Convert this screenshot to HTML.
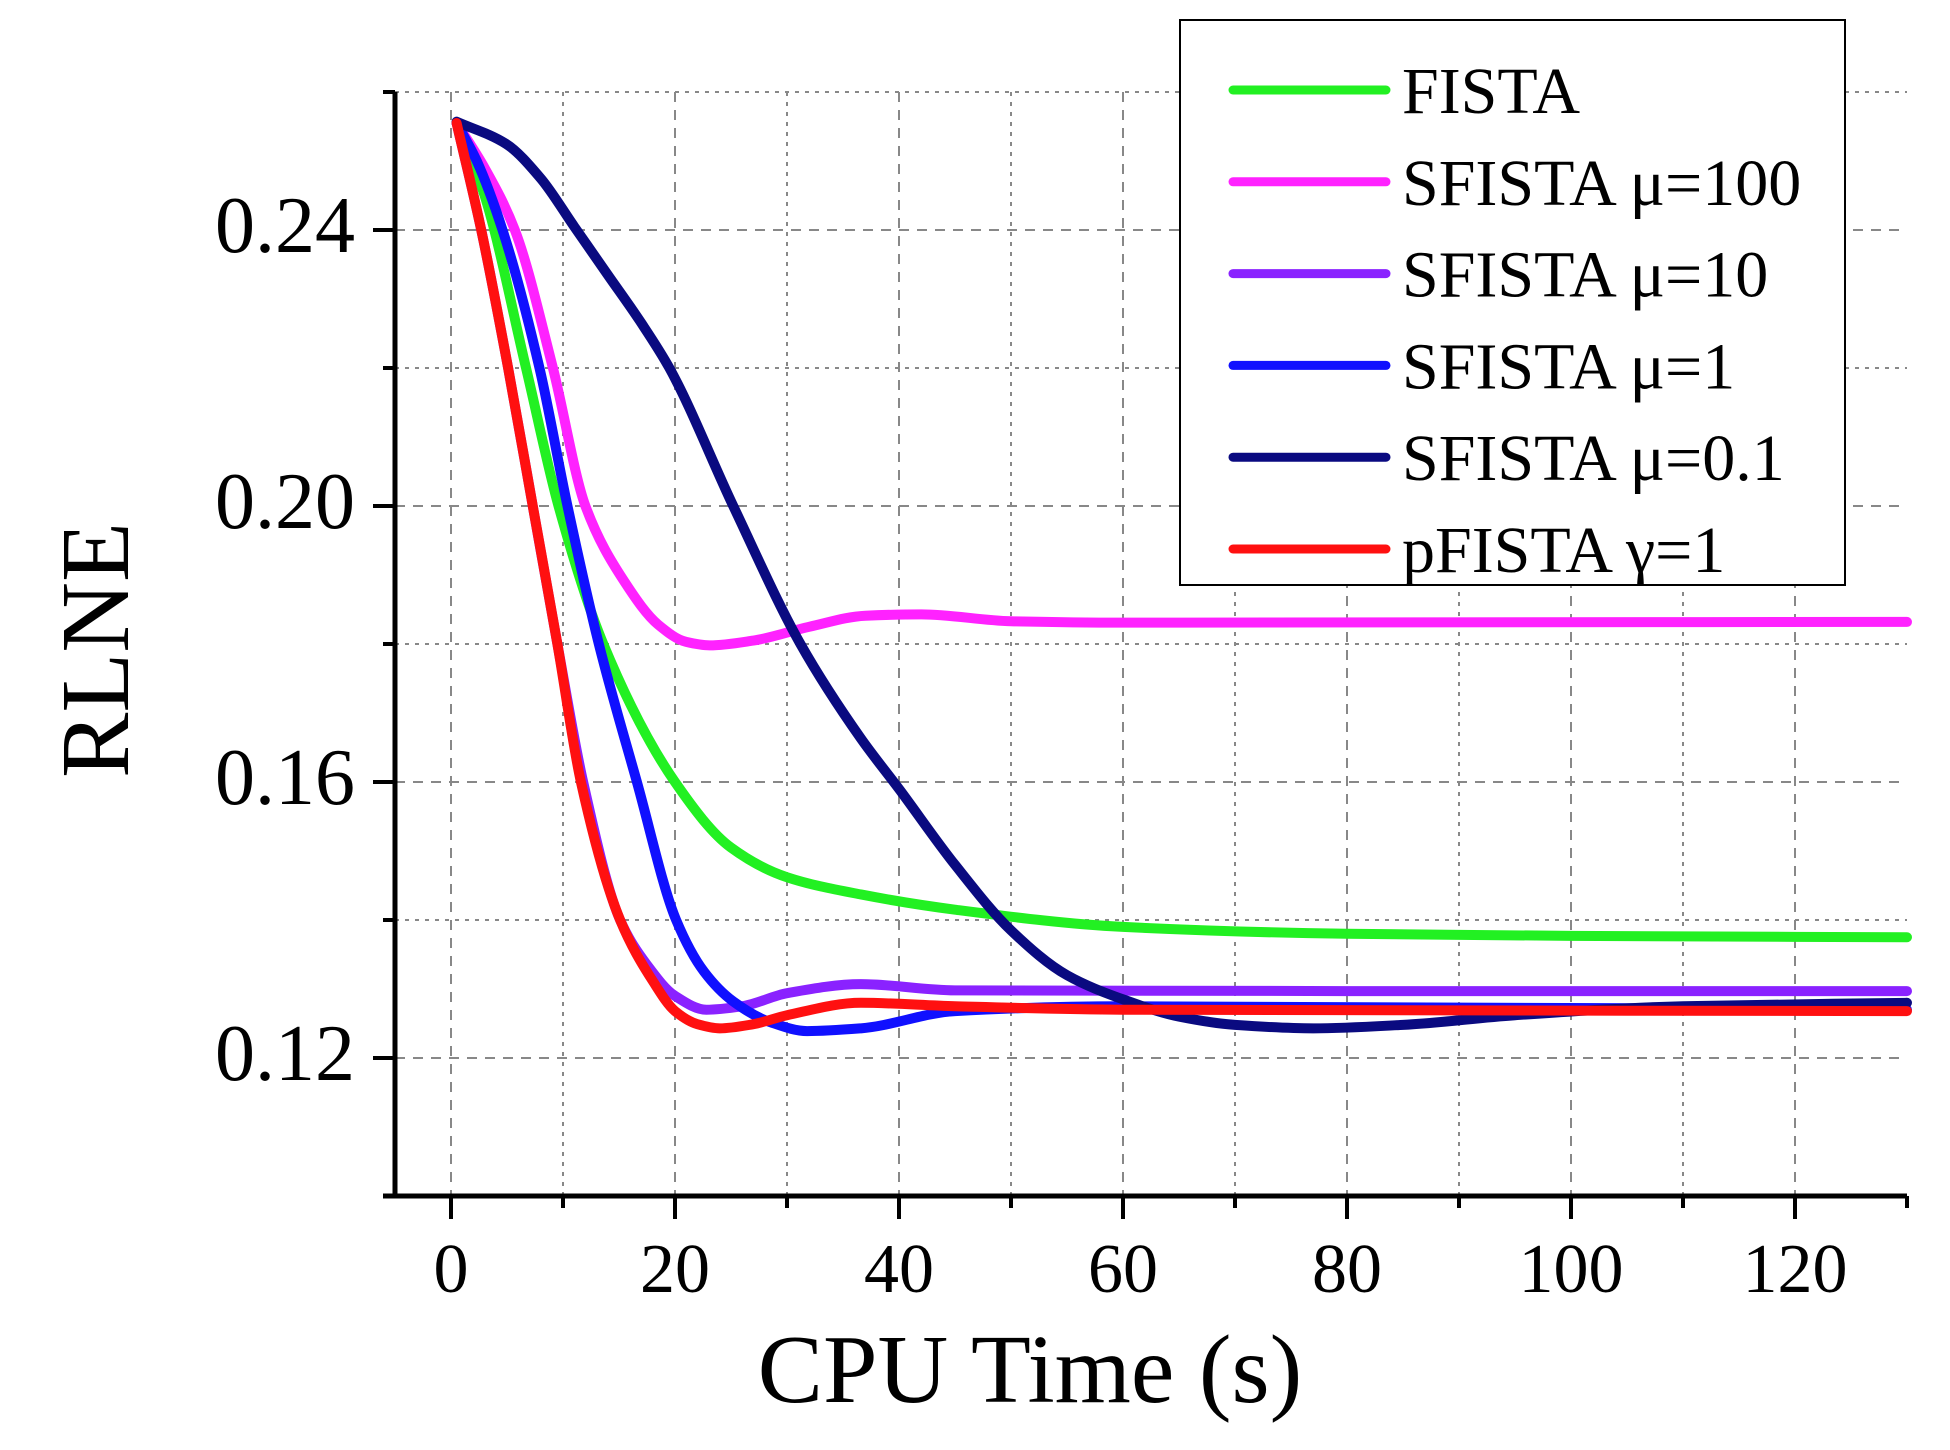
<!DOCTYPE html>
<html><head><meta charset="utf-8"><style>
html,body{margin:0;padding:0;background:#fff;}
svg{display:block;font-family:"Liberation Serif",serif;}
</style></head><body>
<svg id="chart" width="1950" height="1450" viewBox="0 0 1950 1450">
<g id="grid"></g>
<g id="series"></g>
<g id="axes"></g>
<text x="1030" y="1402" font-size="98" text-anchor="middle">CPU Time (s)</text>
<text transform="translate(128,650) rotate(-90)" font-size="98" text-anchor="middle">RLNE</text>
<g id="legend"></g>
</svg>
<script>
const seriesNames = ["FISTA","SFISTA μ=100","SFISTA μ=10","SFISTA μ=1","SFISTA μ=0.1","pFISTA γ=1"];
const seriesColors = ["#22f022","#ff22ff","#8a22ff","#1010ff","#0a0a80","#ff1010"];
const xTicks = [0,20,40,60,80,100,120];
const yTicks = [0.12,0.16,0.20,0.24];
const fistaT = [0.5,3,6.7,9.6,13.6,20,25,30,36.6,45,60,80,100,130];
const fistaV = [0.2555,0.245,0.22,0.2,0.18,0.16,0.1505,0.1462,0.1437,0.1415,0.139,0.138,0.1377,0.1375];
const mu100T = [0.5,3,5.7,9.1,12,15.5,18.5,21,23.1,27,32,37,42,50,60,130];
const mu100V = [0.2555,0.249,0.24,0.22,0.20,0.189,0.1828,0.1803,0.1798,0.1805,0.1825,0.1841,0.1843,0.1833,0.1831,0.1832];
const mu10T = [0.5,2.7,5.1,7.3,9.5,11.8,15.1,17.5,20,22.8,26,30,36.6,45,80,130];
const mu10V = [0.2555,0.24,0.22,0.20,0.18,0.16,0.14,0.1335,0.129,0.127,0.1275,0.1294,0.1307,0.1298,0.1297,0.1297];
const mu1T = [0.5,2.3,4.6,7.9,10.4,13.2,16.6,20.1,22.6,25.2,28.5,31.8,36.6,45,60,130];
const mu1V = [0.2555,0.25,0.24,0.22,0.20,0.18,0.16,0.14,0.1325,0.1282,0.1252,0.1239,0.1243,0.1268,0.1275,0.127];
const mu01T = [0.5,4.9,8,11,14,17,19.5,25.2,31.2,36.6,40,45,50,55,60,65,70,77,85,95,110,130];
const mu01V = [0.2557,0.2525,0.2475,0.2405,0.2335,0.2265,0.22,0.20,0.18,0.1663,0.159,0.148,0.1385,0.132,0.1285,0.126,0.1248,0.1243,0.1248,0.1262,0.1275,0.128];
const pT = [0.5,2.7,5.1,7.3,9.5,11.6,15.1,18,20,22,24,27,30,36.6,45,60,130];
const pV = [0.2555,0.24,0.22,0.20,0.18,0.16,0.14,0.1312,0.1268,0.1249,0.1243,0.1249,0.1262,0.128,0.1275,0.127,0.1268];

const NS="http://www.w3.org/2000/svg";
const X0=451, XS=11.2; function sx(t){return X0+t*XS;}
const Y0=1058, YS=6900; function sy(v){return Y0-(v-0.12)*YS;}
const L=395, R=1907, T=92, B=1196;
function mk(tag,attrs,parent){const e=document.createElementNS(NS,tag);for(const k in attrs)e.setAttribute(k,attrs[k]);parent.appendChild(e);return e;}
const grid=document.getElementById('grid'), axes=document.getElementById('axes'), ser=document.getElementById('series'), leg=document.getElementById('legend');
for(let t=0;t<=120;t+=10){
  const g=mk('line',{x1:sx(t),x2:sx(t),y1:T,y2:B,stroke:'#888','stroke-width':2,'stroke-dasharray':t%20==0?'10,8':'4,6'},grid);
  
  
}
for(let i=0;i<=7;i++){
  const v=0.12+i*0.02;
  const g=mk('line',{x1:L,x2:R,y1:sy(v),y2:sy(v),stroke:'#888','stroke-width':2,'stroke-dasharray':i%2==0?'10,8':'4,6'},grid);
  
  
}
const allT=[fistaT,mu100T,mu10T,mu1T,mu01T,pT], allV=[fistaV,mu100V,mu10V,mu1V,mu01V,pV];
function pathOf(ts,vs){
  const x=ts.map(sx), y=vs.map(sy), n=x.length;
  const d=[], m=[];
  for(let i=0;i<n-1;i++) d.push((y[i+1]-y[i])/(x[i+1]-x[i]));
  m[0]=d[0]; m[n-1]=d[n-2];
  for(let i=1;i<n-1;i++){
    if(d[i-1]*d[i]<=0) m[i]=0;
    else { const h0=x[i]-x[i-1], h1=x[i+1]-x[i]; const w1=2*h1+h0, w2=h1+2*h0; m[i]=(w1+w2)/(w1/d[i-1]+w2/d[i]); }
  }
  let s='M'+x[0]+','+y[0];
  for(let i=0;i<n-1;i++){
    const h=(x[i+1]-x[i])/3;
    s+=' C'+(x[i]+h)+','+(y[i]+m[i]*h)+' '+(x[i+1]-h)+','+(y[i+1]-m[i+1]*h)+' '+x[i+1]+','+y[i+1];
  }
  return s;
}
[0,1,2,3,4,5].forEach(i=>{
  const e=mk('path',{d:pathOf(allT[i],allV[i]),fill:'none',stroke:seriesColors[i],'stroke-width':10,'stroke-linejoin':'round','stroke-linecap':'round'},ser);
  
  
});
mk('line',{x1:L,x2:L,y1:T,y2:B+2,stroke:'#000','stroke-width':5},axes);
mk('line',{x1:L-12,x2:R,y1:B,y2:B,stroke:'#000','stroke-width':5},axes);
for(let t=0;t<=130;t+=10){mk('line',{x1:sx(t),x2:sx(t),y1:B,y2:B+(t%20==0?23:12),stroke:'#000','stroke-width':4},axes);}
for(let i=0;i<=8;i++){const v=0.10+i*0.02;mk('line',{x1:L-(i%2==1?22:12),x2:L,y1:sy(v),y2:sy(v),stroke:'#000','stroke-width':4},axes);}
xTicks.forEach(t=>{
  const e=mk('text',{x:sx(t),y:1292,'font-size':70,'text-anchor':'middle'},axes);e.textContent=t;
  
  
});
yTicks.forEach(v=>{
  const e=mk('text',{x:355,y:sy(v)+22,'font-size':80,'text-anchor':'end'},axes);e.textContent=v.toFixed(2);
  
  
});
const box=mk('rect',{x:1180,y:20,width:665,height:565,fill:'#fff',stroke:'#000','stroke-width':2},leg);


seriesNames.forEach((n,i)=>{
  const y=90+i*91.8;
  const l=mk('line',{x1:1233,x2:1386,y1:y,y2:y,stroke:seriesColors[i],'stroke-width':9,'stroke-linecap':'round'},leg);
  
  
  const e=mk('text',{x:1402,y:y+23,'font-size':66},leg);e.textContent=n;
  
  
});
</script>
</body></html>
